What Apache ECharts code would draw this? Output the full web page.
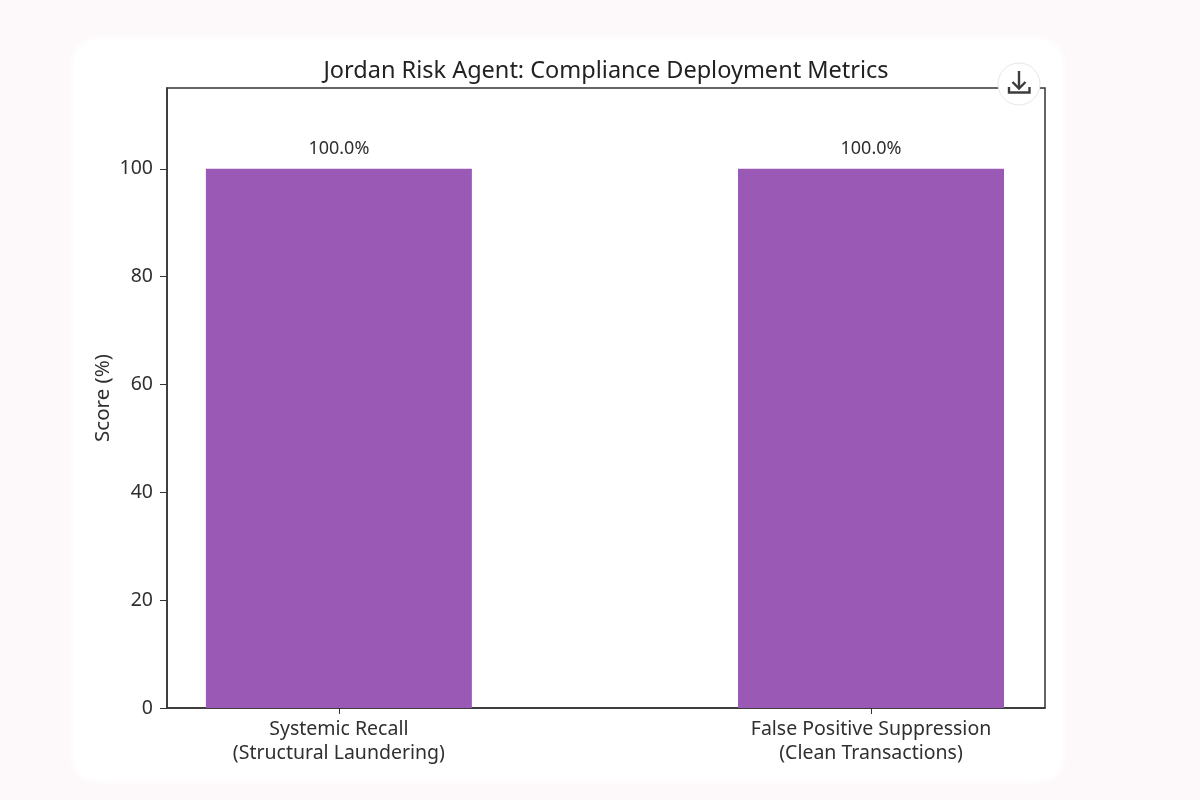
<!DOCTYPE html>
<html><head><meta charset="utf-8">
<style>html,body{margin:0;padding:0;background:#fdf9fb;width:1200px;height:800px;overflow:hidden}
#card{position:absolute;left:74px;top:40px;width:988px;height:740px;background:#fff;border-radius:24px;box-shadow:0 0 6px 2px #fff}
#c{position:absolute;left:0;top:0;width:1200px;height:800px}</style>
<script src="https://cdn.jsdelivr.net/npm/echarts@6/dist/echarts.min.js"></script>
</head><body><div id="card"></div><div id="c"></div>
<script>
const categories=['Systemic Recall\n(Structural Laundering)','False Positive Suppression\n(Clean Transactions)'];
const positions=[0,1];
const values=[100,100];
const barLabels=['100.0%','100.0%'];
const yTicks=[0,20,40,60,80,100];
const FONT='"Noto Sans", Roboto, sans-serif';
const INK='#2f2f2f';
const chart=echarts.init(document.getElementById('c'),null,{renderer:'canvas'});
chart.setOption({
 animation:false,
 title:{text:'Jordan Risk Agent: Compliance Deployment Metrics',left:601,top:54,textAlign:'center',textStyle:{fontFamily:FONT,fontWeight:'normal',fontSize:23.5,color:'#222'}},
 grid:{left:167,right:155,top:88,bottom:92,show:true,borderColor:'#333',borderWidth:1.5,backgroundColor:'transparent'},
 xAxis:{type:'value',min:-0.323,max:1.327,
  splitLine:{show:false},
  axisLine:{show:true,onZero:false,lineStyle:{color:'#333',width:1.5}},
  axisTick:{show:true,customValues:positions,length:6,lineStyle:{color:'#333'}},
  axisLabel:{customValues:positions,fontFamily:FONT,fontSize:19.5,color:INK,lineHeight:24,margin:9,
   formatter:v=>categories[v]}},
 yAxis:{type:'value',min:0,max:115,name:'Score (%)',nameLocation:'middle',nameMoveOverlap:false,nameGap:53,nameTextStyle:{fontFamily:FONT,fontSize:20.5,color:INK},
  splitLine:{show:false},axisLine:{show:true,onZero:false,lineStyle:{color:'#333',width:1.5}},
  axisTick:{show:true,customValues:yTicks,length:7,lineStyle:{color:'#333'}},
  axisLabel:{customValues:yTicks,fontFamily:FONT,fontSize:19.5,color:INK,margin:14,padding:[4,0,0,0]}},
 series:[{type:'bar',data:positions.map((p,i)=>[p,values[i]]),barWidth:266,itemStyle:{color:'#9b59b6'},
  label:{show:true,position:'top',distance:11,fontFamily:FONT,fontSize:18,color:INK,formatter:p=>barLabels[p.dataIndex]}}],
 graphic:[
  {type:'circle',z:100,shape:{cx:1019,cy:84,r:21},style:{fill:'#fff',stroke:'#e6e6e6',lineWidth:1}},
  {type:'polyline',z:101,shape:{points:[[1019,71],[1019,88]]},style:{stroke:'#3c3c3c',lineWidth:2.4,fill:null}},
  {type:'polyline',z:101,shape:{points:[[1012.5,82],[1019,88.5],[1025.5,82]]},style:{stroke:'#3c3c3c',lineWidth:2.4,fill:null}},
  {type:'polyline',z:101,shape:{points:[[1009,87],[1009,92.5],[1029.5,92.5],[1029.5,87]]},style:{stroke:'#3c3c3c',lineWidth:2.4,fill:null}}
 ]
});
</script></body></html>
